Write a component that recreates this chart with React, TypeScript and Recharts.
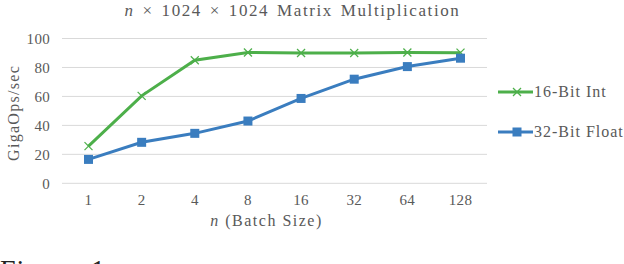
import React from 'react';
import { LineChart, Line, XAxis, YAxis, CartesianGrid, Legend, Label } from 'recharts';

const categories = ['1', '2', '4', '8', '16', '32', '64', '128'];
const int16 = [25.7, 60.4, 85, 90.3, 90, 90, 90.3, 90.2];
const float32 = [16.5, 28.3, 34.5, 43, 58.6, 71.9, 80.6, 86.4];
const yTicks = [0, 20, 40, 60, 80, 100];

const GREEN = '#4DAF4A';
const BLUE = '#3A7DBF';
const TEXT = '#595959';
const FONT = '"Liberation Serif", "DejaVu Serif", serif';

const data = categories.map((n, i) => ({ n, int16: int16[i], float32: float32[i] }));

const XDot = (props: any) => {
  const { cx, cy } = props;
  if (cx == null || cy == null) return null;
  const s = 4;
  return (
    <g>
      <line x1={cx - s} y1={cy - s} x2={cx + s} y2={cy + s} stroke={GREEN} strokeWidth={1.2} />
      <line x1={cx - s} y1={cy + s} x2={cx + s} y2={cy - s} stroke={GREEN} strokeWidth={1.2} />
    </g>
  );
};

const SqDot = (props: any) => {
  const { cx, cy } = props;
  if (cx == null || cy == null) return null;
  return <rect x={cx - 4.5} y={cy - 4.5} width={9} height={9} fill={BLUE} />;
};

const LegendContent = () => {
  const items = [
    { name: '16-Bit Int', color: GREEN, kind: 'x' },
    { name: '32-Bit Float', color: BLUE, kind: 'sq' },
  ];
  return (
    <div>
      {items.map((it, i) => (
        <div key={it.name} style={{ display: 'flex', alignItems: 'center', height: 20, marginBottom: i === 0 ? 20 : 0 }}>
          <svg width={37} height={20}>
            <line x1={1} y1={10} x2={36} y2={10} stroke={it.color} strokeWidth={3} />
            {it.kind === 'x' ? (
              <g>
                <line x1={16} y1={6} x2={24} y2={14} stroke={GREEN} strokeWidth={1.2} />
                <line x1={16} y1={14} x2={24} y2={6} stroke={GREEN} strokeWidth={1.2} />
              </g>
            ) : (
              <rect x={15.5} y={5.5} width={9} height={9} fill={BLUE} />
            )}
          </svg>
          <span style={{ fontFamily: FONT, fontSize: 16, letterSpacing: 1.0, color: TEXT, marginLeft: 0 }}>{it.name}</span>
        </div>
      ))}
    </div>
  );
};

export default function App() {
  return (
    <div style={{ position: 'absolute', left: 0, top: 0, width: 624, height: 264, overflow: 'hidden', background: '#fff' }}>
      <div
        style={{
          position: 'absolute',
          left: 80,
          width: 425,
          top: 1,
          textAlign: 'center',
          fontFamily: FONT,
          fontSize: 17,
          letterSpacing: 1.6,
          wordSpacing: 2,
          color: TEXT,
          whiteSpace: 'nowrap',
        }}
      >
        <i>n</i> × 1024 × 1024 Matrix Multiplication
      </div>
      <LineChart width={624} height={264} data={data} margin={{ top: 38.5, right: 137, bottom: 50.7, left: 0 }}>
        <CartesianGrid horizontal vertical={false} stroke="#d9d9d9" strokeWidth={1} />
        <XAxis
          dataKey="n"
          type="category"
          padding={{ left: 26.5, right: 26.5 }}
          axisLine={false}
          tickLine={false}
          tickMargin={5}
          height={30}
          tick={{ fill: TEXT, fontSize: 15, fontFamily: FONT, letterSpacing: 0.3 }}
        >
          <Label
            content={(p: any) => {
              const vb = p.viewBox;
              return (
                <text x={vb.x + vb.width / 2 - 8} y={vb.y + 43} textAnchor="middle" fill={TEXT} fontSize={16} letterSpacing={1.5} fontFamily={FONT}>
                  <tspan fontStyle="italic">n</tspan> (Batch Size)
                </text>
              );
            }}
          />
        </XAxis>
        <YAxis
          domain={[0, 100]}
          ticks={yTicks}
          width={62}
          axisLine={false}
          tickLine={false}
          tickMargin={6}
          tick={{ fill: TEXT, fontSize: 15, fontFamily: FONT, letterSpacing: 0.3 }}
        >
          <Label
            content={(p: any) => {
              const vb = p.viewBox;
              const cx = 14;
              const cy = vb.y + vb.height / 2 + 2;
              return (
                <text x={cx} y={cy} textAnchor="middle" dominantBaseline="central" transform={`rotate(-90, ${cx}, ${cy})`} fill={TEXT} fontSize={16} letterSpacing={1.3} fontFamily={FONT}>
                  GigaOps/sec
                </text>
              );
            }}
          />
        </YAxis>
        <Legend
          align="center"
          verticalAlign="middle"
          content={<LegendContent />}
          wrapperStyle={{ left: 497, top: 82, width: 127 }}
        />
        <Line
          type="linear"
          dataKey="int16"
          name="16-Bit Int"
          stroke={GREEN}
          strokeWidth={3}
          dot={<XDot />}
          activeDot={false}
          isAnimationActive={false}
        />
        <Line
          type="linear"
          dataKey="float32"
          name="32-Bit Float"
          stroke={BLUE}
          strokeWidth={3}
          dot={<SqDot />}
          activeDot={false}
          isAnimationActive={false}
        />
      </LineChart>
      <div style={{ position: 'absolute', left: 0, top: 254, fontFamily: FONT, fontSize: 28, letterSpacing: 1, wordSpacing: 4, color: '#222', whiteSpace: 'nowrap' }}>
        Figure 1
      </div>
    </div>
  );
}
